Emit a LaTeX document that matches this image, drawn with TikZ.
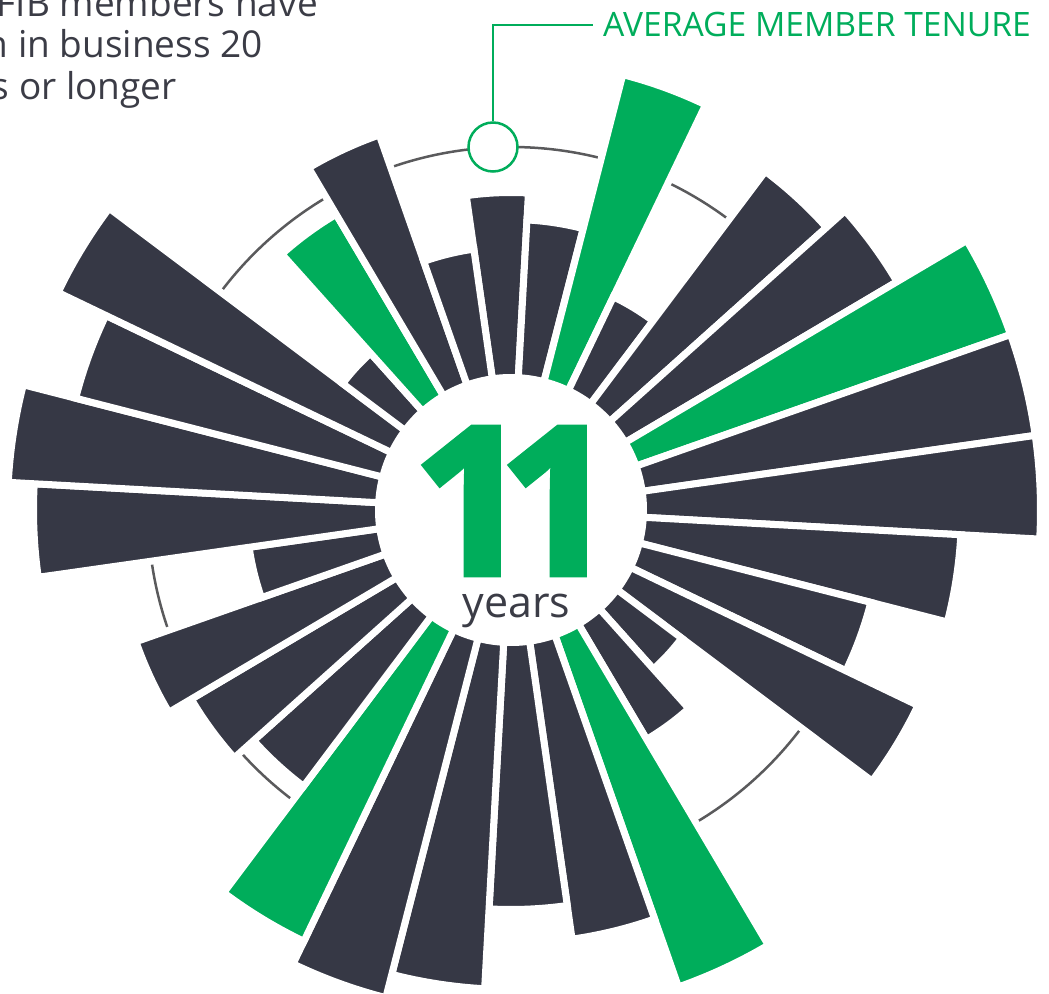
\documentclass[tikz,border=0pt]{standalone}
\usepackage{fontspec}
\setmainfont{Open Sans}
\newfontfamily\heavyfont[FakeBold=3]{Open Sans}
\definecolor{bardark}{HTML}{363845}
\definecolor{bargreen}{HTML}{00AD5B}
\definecolor{guidegray}{HTML}{5A5A5C}
\definecolor{textgray}{HTML}{3B3C46}

\begin{document}
\begin{tikzpicture}[x=1pt,y=1pt,
	bar/.style={draw=white,line width=7pt},
	guide/.style={draw=guidegray,line width=2.5pt},
	note/.style={text=textgray,font=\fontsize{37}{42}\selectfont,inner sep=0pt,anchor=base east}]
	\useasboundingbox (-511,-483) rectangle (538,510);
	\draw[guide] (0,0) circle[radius=363pt];
	\foreach \r/\c [count=\k] in {314/bardark,287/bardark,446/bargreen,233/bardark,
		420/bardark,445/bardark,526/bargreen,526/bardark,526/bardark,447/bardark,
		368/bardark,448/bardark,210/bardark,263/bardark,502/bargreen,430/bardark,
		396/bardark,476/bardark,500/bardark,475/bargreen,342/bardark,368/bardark,
		394/bardark,261/bardark,474/bardark,500/bardark,446/bardark,499/bardark,
		207/bardark,340/bargreen,394/bardark,260/bardark}{
		\pgfmathsetmacro\a{98.1-11.25*\k}
		\pgfmathsetmacro\b{\a+11.25}
		\pgfmathsetmacro\ro{\r+3.5}
		\filldraw[bar,fill=\c] (\a:132.5pt) -- (\a:\ro pt)
			arc[start angle=\a,end angle=\b,radius=\ro pt] -- (\b:132.5pt)
			arc[start angle=\b,end angle=\a,radius=132.5pt] -- cycle;
	}
	\node[circle,draw=bargreen,fill=white,line width=2.5pt,minimum size=49pt,inner sep=0pt] (avgmark) at (-18,363) {};
	\node[text=bargreen,font=\fontsize{33.6}{40}\selectfont,anchor=west,inner xsep=10pt,inner ysep=0pt] (avglabel) at (82,485) {AVERAGE MEMBER TENURE};
	\draw[bargreen,line width=2.5pt] (avgmark.north) |- (avglabel.west);
	\node[text=bargreen,font=\fontsize{205}{205}\heavyfont\bfseries] (tenure) at (3.5,9) {1\kern-31pt1};
	\node[text=textgray,font=\fontsize{43}{50}\selectfont,anchor=base,inner sep=0pt] (unit) at (5.5,-107) {years};
	\node[note] (notea) at (-193,493) {NFIB members have};
	\node[note] (noteb) at (-248,452) {been in business 20};
	\node[note] (notec) at (-334,410) {years or longer};
\end{tikzpicture}
\end{document}
